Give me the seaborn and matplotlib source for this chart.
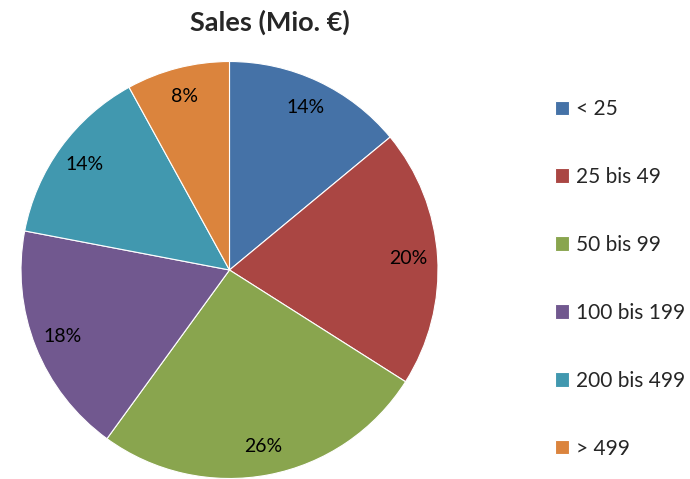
import matplotlib
matplotlib.use("Agg")
import matplotlib.pyplot as plt
import seaborn as sns

# data
categories = ["< 25", "25 bis 49", "50 bis 99", "100 bis 199", "200 bis 499", "> 499"]
shares = [14, 20, 26, 18, 14, 8]
colors = ["#4572A7", "#AA4643", "#89A54E", "#71588F", "#4198AF", "#DB843D"]

sns.set_theme(style="white")
plt.rcParams["font.family"] = ["Lato", "DejaVu Sans"]

fig = plt.figure(figsize=(6.9, 4.79), dpi=100)
ax = fig.add_axes([21 / 690, 0.5 / 479, 417 / 690, 417 / 479])

wedges, texts, autotexts = ax.pie(
    shares,
    colors=sns.color_palette(colors),
    startangle=90,
    counterclock=False,
    autopct="%1.0f%%",
    pctdistance=0.86,
    wedgeprops=dict(edgecolor="white", linewidth=0.8),
    textprops=dict(fontsize=14, color="black"),
)
ax.set_xlim(-1, 1)
ax.set_ylim(-1, 1)
ax.set_aspect("equal")
ax.axis("off")

fig.text(270 / 690, 1 - 22 / 479, "Sales (Mio. €)", ha="center", va="center",
         fontsize=19.5, fontweight="bold")

fig.legend(
    wedges, categories,
    loc="upper left", bbox_to_anchor=(555 / 690, 1 - 99 / 479),
    frameon=False, fontsize=15,
    handlelength=0.68, handleheight=0.68, handletextpad=0.35,
    labelspacing=2.3, borderaxespad=0, borderpad=0,
)

fig.savefig("out.png", dpi=100)
